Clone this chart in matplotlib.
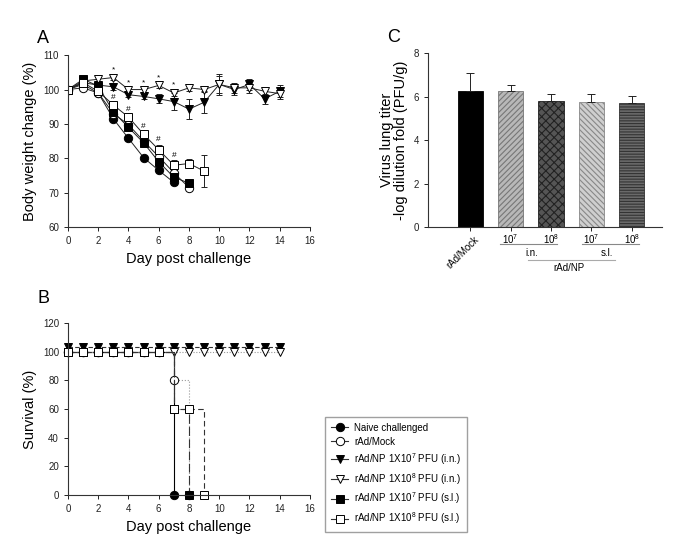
import matplotlib
matplotlib.use("Agg")
from matplotlib import pyplot as plt
from matplotlib.lines import Line2D
from matplotlib import transforms
import numpy as np

plt.rcParams['font.family'] = ['Liberation Sans', 'DejaVu Sans']
plt.rcParams['mathtext.fontset'] = 'custom'
plt.rcParams['mathtext.rm'] = 'Liberation Sans'
plt.rcParams['mathtext.it'] = 'Liberation Sans:italic'
plt.rcParams['hatch.linewidth'] = 0.8

# ---- panel A: body weight (%) ----
days_naive = [0, 1, 2, 3, 4, 5, 6, 7]
bw_naive = [100, 101.5, 99, 91.5, 85.8, 80.2, 76.5, 73]
err_naive = [0, 0.3, 0.8, 0.6, 0.5, 0.5, 0.6, 0.8]

days_mock = [0, 1, 2, 3, 4, 5, 6, 7, 8]
bw_mock = [100, 100.5, 99, 93, 89.8, 85, 80.5, 75.8, 71.5]
err_mock = [0, 0.5, 0.8, 0.8, 0.7, 0.7, 0.8, 0.8, 0.8]

days_in7 = list(range(15))
bw_in7 = [100, 102, 101.3, 100.8, 98.5, 98, 97.3, 96.5, 94.3, 96.3, 101.5, 100, 101.5, 97.3, 99.5]
err_in7 = [0, 0.5, 0.5, 0.8, 0.8, 0.8, 1.3, 2.5, 3.0, 3.0, 2.5, 1.5, 1.5, 1.5, 1.8]

days_in8 = list(range(15))
bw_in8 = [100, 102.5, 103, 103.5, 100, 100, 101.2, 99, 100.5, 100, 101.5, 100.5, 100.5, 99.5, 98.8]
err_in8 = [0, 0.5, 0.6, 0.8, 0.6, 0.6, 0.8, 0.8, 1.0, 0.5, 3.0, 1.5, 1.5, 1.0, 1.5]

days_sl7 = [0, 1, 2, 3, 4, 5, 6, 7, 8]
bw_sl7 = [100, 103, 101, 93.5, 89, 84.5, 79, 74.5, 72.8]
err_sl7 = [0, 0.5, 0.8, 0.8, 0.6, 0.6, 0.8, 0.8, 0.5]

days_sl8 = [0, 1, 2, 3, 4, 5, 6, 7, 8, 9]
bw_sl8 = [100, 102, 99.5, 95.5, 92, 87, 82.5, 78, 78.5, 76.3]
err_sl8 = [0, 0.5, 0.8, 0.8, 0.8, 0.8, 1.5, 1.5, 1.2, 4.6]

star_days = [3, 4, 5, 6, 7]
hash_days = [3, 4, 5, 6, 7]

# ---- panel B: survival (%) ----
surv_days_naive = [0, 1, 2, 3, 4, 5, 6, 7]
surv_naive = [100, 100, 100, 100, 100, 100, 100, 0]
surv_days_mock = [0, 1, 2, 3, 4, 5, 6, 7, 8]
surv_mock = [100, 100, 100, 100, 100, 100, 100, 80, 0]
surv_days_in7 = list(range(15))
surv_in7 = [100] * 15
surv_days_in8 = list(range(15))
surv_in8 = [100] * 15
surv_days_sl7 = [0, 1, 2, 3, 4, 5, 6, 7, 8]
surv_sl7 = [100, 100, 100, 100, 100, 100, 100, 60, 0]
surv_days_sl8 = [0, 1, 2, 3, 4, 5, 6, 7, 8, 9]
surv_sl8 = [100, 100, 100, 100, 100, 100, 100, 60, 60, 0]

legend_labels = ["Naive challenged", "rAd/Mock",
                 "rAd/NP 1X10$^{7}$ PFU (i.n.)", "rAd/NP 1X10$^{8}$ PFU (i.n.)",
                 "rAd/NP 1X10$^{7}$ PFU (s.l.)", "rAd/NP 1X10$^{8}$ PFU (s.l.)"]

# ---- panel C: lung titer ----
titer_groups = ["rAd/Mock", "10$^7$", "10$^8$", "10$^7$", "10$^8$"]
titer_vals = [6.25, 6.28, 5.82, 5.77, 5.70]
titer_err = [0.85, 0.27, 0.31, 0.33, 0.32]

fig = plt.figure(figsize=(6.96, 5.5), dpi=100)
axA = fig.add_axes([0.0977, 0.587, 0.3477, 0.3127])
axB = fig.add_axes([0.0977, 0.10, 0.3477, 0.3127])
axC = fig.add_axes([0.615, 0.587, 0.336, 0.3164])


def style_ax(ax):
    for s in ['top', 'right']:
        ax.spines[s].set_visible(False)
    for s in ['left', 'bottom']:
        ax.spines[s].set_linewidth(0.8)
        ax.spines[s].set_color('#333333')
    ax.tick_params(direction='out', length=3, width=0.7, labelsize=7, colors='#222222')


# marker styles: (marker, facecolor)
mk = {'naive': ('o', 'black'), 'mock': ('o', 'white'), 'in7': ('v', 'black'),
      'in8': ('v', 'white'), 'sl7': ('s', 'black'), 'sl8': ('s', 'white')}
msize = 6

seriesA = [('naive', days_naive, bw_naive, err_naive),
           ('mock', days_mock, bw_mock, err_mock),
           ('in7', days_in7, bw_in7, err_in7),
           ('in8', days_in8, bw_in8, err_in8),
           ('sl7', days_sl7, bw_sl7, err_sl7),
           ('sl8', days_sl8, bw_sl8, err_sl8)]
for key, d, v, e in seriesA:
    m, fc = mk[key]
    axA.errorbar(d, v, yerr=e, color='#222222', lw=0.7, marker=m, ms=msize,
                 mfc=fc, mec='black', mew=0.7, capsize=2.5, elinewidth=0.7, capthick=0.7)

for d in star_days:
    axA.annotate('*', (d, bw_in8[d] + err_in8[d]), xytext=(0, 1), textcoords='offset points',
                 ha='center', va='bottom', fontsize=6)
for d in hash_days:
    axA.annotate('#', (d, bw_sl8[d] + err_sl8[d]), xytext=(0, 1), textcoords='offset points',
                 ha='center', va='bottom', fontsize=6)

axA.set_xlim(0, 16)
axA.set_ylim(60, 110)
axA.set_xticks(range(0, 17, 2))
axA.set_yticks(range(60, 111, 10))
axA.set_xlabel('Day post challenge', fontsize=10.5)
axA.set_ylabel('Body weight change (%)', fontsize=10.5)
style_ax(axA)

# survival curves
seriesB = [('naive', surv_days_naive, surv_naive, '-', 'black', 0),
           ('mock', surv_days_mock, surv_mock, ':', '#999999', 0),
           ('in7', surv_days_in7, surv_in7, (0, (4, 2)), '#333333', 3.5),
           ('in8', surv_days_in8, surv_in8, (0, (1, 1.5)), '#999999', 0),
           ('sl7', surv_days_sl7, surv_sl7, (0, (8, 3)), '#333333', 0),
           ('sl8', surv_days_sl8, surv_sl8, (0, (5, 3)), '#333333', 0)]
for key, d, v, ls, col, off in seriesB:
    m, fc = mk[key]
    tr = axB.transData + transforms.ScaledTranslation(0, off / 72, fig.dpi_scale_trans)
    axB.plot(d, v, drawstyle='steps-post', ls=ls, color=col, lw=0.8, transform=tr)
    axB.plot(d, v, ls='none', marker=m, ms=msize, mfc=fc, mec='black', mew=0.7,
             transform=tr, clip_on=False)

axB.set_xlim(0, 16)
axB.set_ylim(0, 120)
axB.set_xticks(range(0, 17, 2))
axB.set_yticks(range(0, 121, 20))
axB.set_xlabel('Day post challenge', fontsize=10.5)
axB.set_ylabel('Survival (%)', fontsize=10.5)
style_ax(axB)

handles = []
for key in ['naive', 'mock', 'in7', 'in8', 'sl7', 'sl8']:
    m, fc = mk[key]
    handles.append(Line2D([], [], color='#333333', lw=0.8, marker=m, ms=msize,
                          mfc=fc, mec='black', mew=0.7))
fig.legend(handles, legend_labels, loc='upper left', bbox_to_anchor=(0.467, 0.242),
           fontsize=7, frameon=True, fancybox=False, edgecolor='#888888',
           handlelength=1.8, handletextpad=0.6, labelspacing=0.42, borderpad=0.6,
           borderaxespad=0)

# bars
xpos = np.arange(len(titer_vals))
faces = ['black', '#b8b8b8', '#555555', '#cfcfcf', '#6a6a6a']
edges = ['black', '#777777', '#222222', '#888888', '#333333']
hatches = ['', '//////', 'xxxx', '\\\\\\\\\\\\', '------']
for i in range(len(titer_vals)):
    axC.bar(xpos[i], titer_vals[i], width=0.62, color=faces[i], edgecolor=edges[i],
            hatch=hatches[i], lw=0.6, zorder=2)
axC.errorbar(xpos, titer_vals, yerr=[[0] * len(titer_err), titer_err], fmt='none',
             ecolor='#222222', elinewidth=0.7, capsize=3, capthick=0.7, zorder=3)
axC.set_xlim(-1.04, 4.74)
axC.set_ylim(0, 8)
axC.set_yticks(range(0, 9, 2))
axC.set_xticks(xpos)
axC.set_xticklabels([''] * len(xpos))
axC.set_ylabel('Virus lung titer\n-log dilution fold (PFU/g)', fontsize=10.5, linespacing=1.0)
style_ax(axC)

trC = transforms.blended_transform_factory(axC.transData, axC.transAxes)
axC.text(xpos[0] + 0.1, -0.04, titer_groups[0], transform=trC, rotation=45,
         ha='right', va='top', fontsize=7, rotation_mode='anchor')
for i in range(1, len(xpos)):
    axC.text(xpos[i], -0.03, titer_groups[i], transform=trC, ha='center', va='top', fontsize=7)
axC.plot([0.74, 2.15], [-0.098, -0.098], transform=trC, color='#888888', lw=0.8, clip_on=False)
axC.plot([2.77, 4.17], [-0.098, -0.098], transform=trC, color='#888888', lw=0.8, clip_on=False)
axC.text(1.53, -0.12, 'i.n.', transform=trC, ha='center', va='top', fontsize=7)
axC.text(3.38, -0.12, 's.l.', transform=trC, ha='center', va='top', fontsize=7)
axC.plot([1.43, 3.58], [-0.19, -0.19], transform=trC, color='#aaaaaa', lw=0.8, clip_on=False)
axC.text(2.44, -0.205, 'rAd/NP', transform=trC, ha='center', va='top', fontsize=7)

fig.text(0.062, 0.93, 'A', fontsize=13, ha='center', va='center')
fig.text(0.062, 0.457, 'B', fontsize=13, ha='center', va='center')
fig.text(0.565, 0.932, 'C', fontsize=13, ha='center', va='center')

fig.savefig('out.png', dpi=100)
